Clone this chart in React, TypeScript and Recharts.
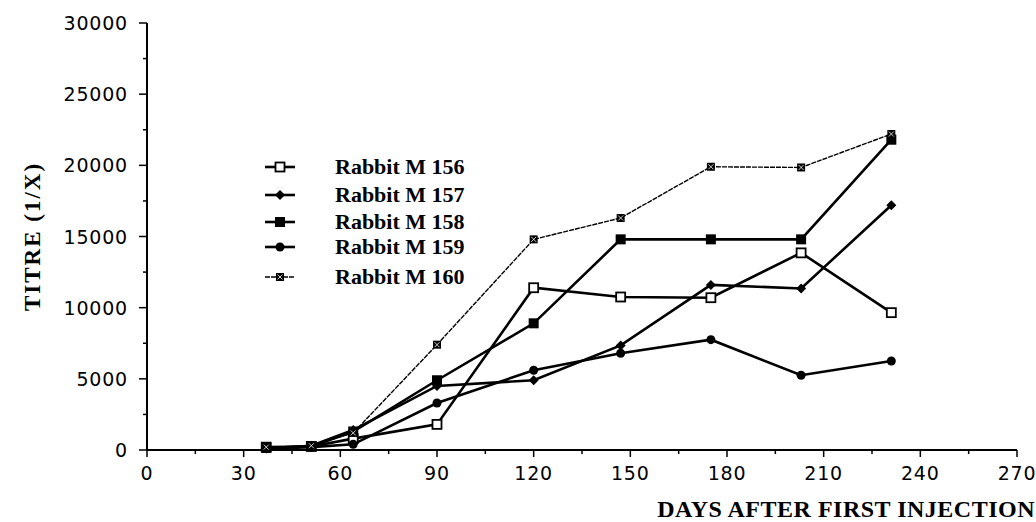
import React from 'react';
import { LineChart, Line, XAxis, YAxis, Legend, Label } from 'recharts';

// ---- data ----
const days = [37, 51, 64, 90, 120, 147, 175, 203, 231];
const m156 = [200, 250, 800, 1800, 11400, 10750, 10700, 13850, 9650];
const m157 = [100, 300, 1400, 4500, 4900, 7350, 11600, 11350, 17200];
const m158 = [150, 250, 1300, 4900, 8900, 14800, 14800, 14800, 21800];
const m159 = [100, 200, 400, 3300, 5600, 6800, 7750, 5250, 6250];
const m160 = [200, 300, 1200, 7400, 14800, 16300, 19900, 19850, 22200];

const seriesNames = ['Rabbit M 156', 'Rabbit M 157', 'Rabbit M 158', 'Rabbit M 159', 'Rabbit M 160'];
const seriesKeys = ['m156', 'm157', 'm158', 'm159', 'm160'];
const seriesValues = [m156, m157, m158, m159, m160];

const xTicks = [0, 15, 30, 45, 60, 75, 90, 105, 120, 135, 150, 165, 180, 195, 210, 225, 240, 255, 270];
const xLabelTicks = [0, 30, 60, 90, 120, 150, 180, 210, 240, 270];
const yTicks = [0, 2500, 5000, 7500, 10000, 12500, 15000, 17500, 20000, 22500, 25000, 27500, 30000];
const yLabelTicks = [0, 5000, 10000, 15000, 20000, 25000, 30000];

const xTitle = 'DAYS AFTER FIRST INJECTION';
const yTitle = 'TITRE (1/X)';

const data = days.map((d, i) => {
  const row: Record<string, number> = { day: d };
  seriesKeys.forEach((k, j) => {
    row[k] = seriesValues[j][i];
  });
  return row;
});

// ---- styles ----
const SERIF = '"Liberation Serif", "Times New Roman", serif';
const SANS = '"DejaVu Sans", sans-serif';

const lineStyles = [
  { width: 2.6, dash: undefined },
  { width: 2.6, dash: undefined },
  { width: 2.6, dash: undefined },
  { width: 2.6, dash: undefined },
  { width: 1.4, dash: '5 1' },
];

const Marker = ({ kind, cx, cy }: { kind: number; cx: number; cy: number }) => {
  if (cx == null || cy == null) return null;
  switch (kind) {
    case 0:
      return <rect x={cx - 4.5} y={cy - 4.5} width={9} height={9} fill="#fff" stroke="#000" strokeWidth={1.8} />;
    case 1:
      return <polygon points={`${cx},${cy - 5} ${cx + 5},${cy} ${cx},${cy + 5} ${cx - 5},${cy}`} fill="#000" />;
    case 2:
      return <rect x={cx - 5} y={cy - 5} width={10} height={10} fill="#000" />;
    case 3:
      return <circle cx={cx} cy={cy} r={4.5} fill="#000" />;
    default:
      return (
        <g>
          <rect x={cx - 4} y={cy - 4} width={8} height={8} fill="#000" />
          <line x1={cx - 2.5} y1={cy - 2.5} x2={cx + 2.5} y2={cy + 2.5} stroke="#fff" strokeWidth={0.8} />
          <line x1={cx - 2.5} y1={cy + 2.5} x2={cx + 2.5} y2={cy - 2.5} stroke="#fff" strokeWidth={0.8} />
        </g>
      );
  }
};

const makeDot = (kind: number) => (p: any) => (
  <g key={`dot-${kind}-${p.index}`}>
    <Marker kind={kind} cx={p.cx} cy={p.cy} />
  </g>
);

const XTick = (props: any) => {
  const { x, y, payload } = props;
  const v = payload.value;
  const major = xLabelTicks.includes(v);
  return (
    <g>
      <line x1={x} x2={x} y1={y} y2={y + (major ? 7 : 4)} stroke="#000" strokeWidth={1.5} />
      {major && (
        <text x={x} y={y + 30} textAnchor="middle" fontFamily={SANS} fontSize={19} letterSpacing={0.8} fill="#000">
          {v}
        </text>
      )}
    </g>
  );
};

const YTick = (props: any) => {
  const { x, y, payload } = props;
  const v = payload.value;
  const major = yLabelTicks.includes(v);
  return (
    <g>
      <line x1={x - (major ? 8 : 4)} x2={x} y1={y} y2={y} stroke="#000" strokeWidth={1.5} />
      {major && (
        <text x={x - 19} y={y + 7} textAnchor="end" fontFamily={SANS} fontSize={19} letterSpacing={0.8} fill="#000">
          {v}
        </text>
      )}
    </g>
  );
};

const legendRows = [17, 45, 72, 97, 127];

const LegendContent = () => (
  <svg width={270} height={145} style={{ display: 'block' }}>
    {seriesNames.map((name, i) => {
      const cy = legendRows[i];
      return (
        <g key={name}>
          <line
            x1={10}
            x2={40}
            y1={cy}
            y2={cy}
            stroke="#000"
            strokeWidth={lineStyles[i].width}
            strokeDasharray={lineStyles[i].dash}
          />
          <Marker kind={i} cx={25} cy={cy} />
          <text x={80} y={cy + 7} fontFamily={SERIF} fontWeight="bold" fontSize={22} fill="#000">
            {name}
          </text>
        </g>
      );
    })}
  </svg>
);

export default function App() {
  return (
    <div style={{ position: 'absolute', left: 0, top: 0, background: '#fff' }}>
      <LineChart width={1036} height={522} data={data} margin={{ top: 23, right: 19, bottom: 0, left: 0 }}>
        <XAxis
          dataKey="day"
          type="number"
          domain={[0, 270]}
          ticks={xTicks}
          interval={0}
          tickSize={0}
          tickMargin={0}
          tick={<XTick />}
          height={72}
          axisLine={{ stroke: '#000', strokeWidth: 2 }}
          tickLine={false}
        >
          <Label
            content={(p: any) => {
              const vb = p.viewBox || { x: 147, y: 450, width: 870, height: 72 };
              return (
                <text
                  x={vb.x + vb.width + 18}
                  y={vb.y + 67}
                  textAnchor="end"
                  fontFamily={SERIF}
                  fontWeight="bold"
                  fontSize={24}
                  letterSpacing={0.5}
                  fill="#000"
                >
                  {xTitle}
                </text>
              );
            }}
          />
        </XAxis>
        <YAxis
          type="number"
          domain={[0, 30000]}
          ticks={yTicks}
          interval={0}
          tickSize={0}
          tickMargin={0}
          tick={<YTick />}
          width={147}
          axisLine={{ stroke: '#000', strokeWidth: 2 }}
          tickLine={false}
        >
          <Label
            content={(p: any) => {
              const vb = p.viewBox || { x: 0, y: 23, width: 147, height: 427 };
              const cx = vb.x + 32;
              const cy = vb.y + vb.height / 2;
              return (
                <text
                  x={cx}
                  y={cy}
                  transform={`rotate(-90, ${cx}, ${cy})`}
                  textAnchor="middle"
                  dominantBaseline="central"
                  fontFamily={SERIF}
                  fontWeight="bold"
                  fontSize={23}
                  letterSpacing={2}
                  fill="#000"
                >
                  {yTitle}
                </text>
              );
            }}
          />
        </YAxis>
        <Legend
          layout="vertical"
          align="center"
          verticalAlign="middle"
          content={<LegendContent />}
          wrapperStyle={{ position: 'absolute', left: 255, top: 150, width: 270, height: 145 }}
        />
        {seriesKeys.map((k, i) => (
          <Line
            key={k}
            dataKey={k}
            name={seriesNames[i]}
            type="linear"
            stroke="#000"
            strokeWidth={lineStyles[i].width}
            strokeDasharray={lineStyles[i].dash}
            dot={makeDot(i)}
            activeDot={false}
            isAnimationActive={false}
          />
        ))}
      </LineChart>
    </div>
  );
}
